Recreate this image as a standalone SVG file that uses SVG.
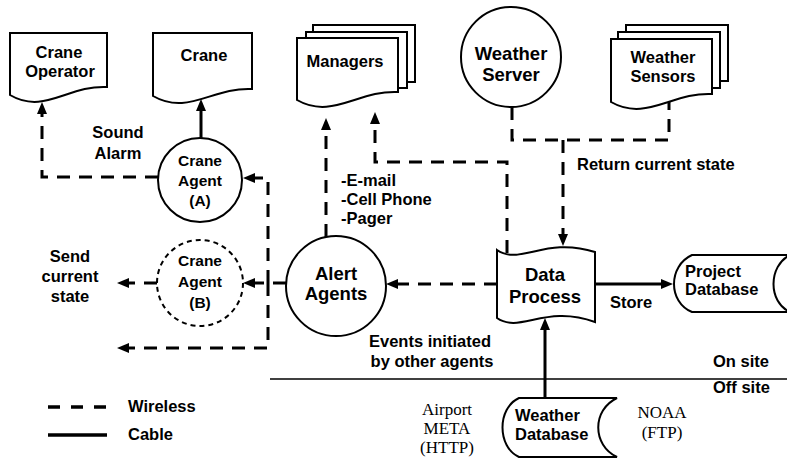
<svg xmlns="http://www.w3.org/2000/svg" width="787" height="459" viewBox="0 0 787 459">
  <style>
    .shape { fill: #fff; stroke: #000; stroke-width: 2; }
    .lbl { font-family: "Liberation Sans", Arial, sans-serif; font-weight: bold; font-size: 16.5px; fill: #000; }
    .big { font-size: 18.5px; }
    .small { font-size: 15.5px; }
    .mid { text-anchor: middle; }
    .serif { font-family: "Liberation Serif", "Times New Roman", serif; font-size: 17px; fill: #000; text-anchor: middle; }
    .wire { fill: none; stroke: #000; stroke-width: 3; stroke-dasharray: 13 9; }
    .cable { fill: none; stroke: #000; stroke-width: 3; }
  </style>
  <defs>
    <marker id="arr" markerUnits="userSpaceOnUse" markerWidth="13" markerHeight="11" refX="6" refY="5" orient="auto">
      <path d="M0,0 L12,5 L0,10 Z" fill="#000"/>
    </marker>
  </defs>
  <rect width="787" height="459" fill="#fff"/>

  <!-- connectors -->
  <g id="connectors">
    <path class="cable" d="M201,138 V105" marker-end="url(#arr)"/>
    <path class="wire" d="M158,177 H42 V108" marker-end="url(#arr)"/>
    <path class="wire" d="M268,283 V178 H249" marker-end="url(#arr)"/>
    <path class="wire" d="M268,283 V348 H123" marker-end="url(#arr)"/>
    <path class="wire" d="M286,283 H249" marker-end="url(#arr)"/>
    <path class="wire" d="M157,283 H123" marker-end="url(#arr)"/>
    <path class="wire" d="M326,237 V124" marker-end="url(#arr)"/>
    <path class="wire" d="M507,253 V162 H375 V118" marker-end="url(#arr)"/>
    <path class="wire" d="M512,107 V140 H669 V102"/>
    <path class="wire" d="M563,140 V240" marker-end="url(#arr)"/>
    <path class="wire" d="M497,284 H392" marker-end="url(#arr)"/>
    <path class="cable" d="M595,284 H667" marker-end="url(#arr)"/>
    <path class="cable" d="M545,398 V324" marker-end="url(#arr)"/>
    <path d="M270,379 H787" stroke="#000" stroke-width="1.5"/>
  </g>

  <!-- connector labels -->
  <g id="labels" class="lbl">
    <text x="118" y="138" class="mid">Sound</text>
    <text x="118" y="159" class="mid">Alarm</text>
    <text x="70" y="262" class="mid">Send</text>
    <text x="70" y="282" class="mid">current</text>
    <text x="70" y="302" class="mid">state</text>
    <text x="341" y="186">-E-mail</text>
    <text x="341" y="205">-Cell Phone</text>
    <text x="341" y="224">-Pager</text>
    <text x="577" y="170">Return current state</text>
    <text x="610" y="308">Store</text>
    <text x="430" y="347" class="mid">Events initiated</text>
    <text x="432" y="367" class="mid">by other agents</text>
    <text x="713" y="367">On site</text>
    <text x="713" y="393">Off site</text>
  </g>
  <g id="sources">
    <text class="serif" x="447" y="415">Airport</text>
    <text class="serif" x="447" y="434">META</text>
    <text class="serif" x="447" y="453">(HTTP)</text>
    <text class="serif" x="662" y="418">NOAA</text>
    <text class="serif" x="662" y="438">(FTP)</text>
  </g>

  <!-- nodes -->
  <g id="crane-operator">
    <path class="shape" d="M10,33 H107 V87 C68,85 44,115 10,95 Z"/>
    <text class="lbl mid" x="59" y="58">Crane</text>
    <text class="lbl mid" x="60" y="77">Operator</text>
  </g>
  <g id="crane">
    <path class="shape" d="M153,33 H252 V89 C212,87 188,116 153,96 Z"/>
    <text class="lbl mid" x="204" y="61">Crane</text>
  </g>
  <g id="managers">
    <rect class="shape" x="313" y="25" width="102" height="57"/>
    <rect class="shape" x="306" y="32" width="101" height="56"/>
    <path class="shape" d="M297,38 H398 V92 C358,90 332,120 297,100 Z"/>
    <text class="lbl mid" x="345" y="67">Managers</text>
  </g>
  <g id="weather-server">
    <circle class="shape" cx="511" cy="57" r="50"/>
    <text class="lbl big mid" x="511" y="60">Weather</text>
    <text class="lbl big mid" x="511" y="81">Server</text>
  </g>
  <g id="weather-sensors">
    <rect class="shape" x="626" y="25" width="102" height="56"/>
    <rect class="shape" x="618" y="32" width="102" height="56"/>
    <path class="shape" d="M611,39 H712 V94 C672,92 646,122 611,102 Z"/>
    <text class="lbl mid" x="663" y="63">Weather</text>
    <text class="lbl mid" x="663" y="82">Sensors</text>
  </g>
  <g id="crane-agent-a">
    <circle class="shape" cx="200" cy="180" r="42"/>
    <text class="lbl small mid" x="200" y="166">Crane</text>
    <text class="lbl small mid" x="200" y="186">Agent</text>
    <text class="lbl small mid" x="200" y="206">(A)</text>
  </g>
  <g id="crane-agent-b">
    <circle class="shape" cx="200" cy="283" r="43" stroke-dasharray="5 4"/>
    <text class="lbl small mid" x="200" y="266">Crane</text>
    <text class="lbl small mid" x="200" y="287">Agent</text>
    <text class="lbl small mid" x="200" y="308">(B)</text>
  </g>
  <g id="alert-agents">
    <circle class="shape" cx="336" cy="286" r="50"/>
    <text class="lbl big mid" x="336" y="280">Alert</text>
    <text class="lbl big mid" x="336" y="300">Agents</text>
  </g>
  <g id="data-process">
    <path class="shape" d="M497,250 C520,266 545,236 595,252 V322 C545,304 520,334 497,318 Z"/>
    <text class="lbl big mid" x="545" y="281">Data</text>
    <text class="lbl big mid" x="545" y="303">Process</text>
  </g>
  <g id="project-database">
    <path class="shape" d="M692,255 H790 C768,266 768,302 790,312 H692 C668,302 668,266 692,255 Z"/>
    <text class="lbl" x="685" y="277">Project</text>
    <text class="lbl" x="685" y="295">Database</text>
  </g>
  <g id="weather-database">
    <path class="shape" d="M519,398 H617 C592,410 592,445 617,457 H519 C497,447 497,408 519,398 Z"/>
    <text class="lbl" x="515" y="421">Weather</text>
    <text class="lbl" x="515" y="440">Database</text>
  </g>

  <!-- legend -->
  <g id="legend">
    <path d="M48,407 H107" stroke="#000" stroke-width="3.5" stroke-dasharray="12 11"/>
    <text class="lbl" x="128" y="412">Wireless</text>
    <path d="M48,435 H107" stroke="#000" stroke-width="3.5"/>
    <text class="lbl" x="128" y="440">Cable</text>
  </g>
</svg>
